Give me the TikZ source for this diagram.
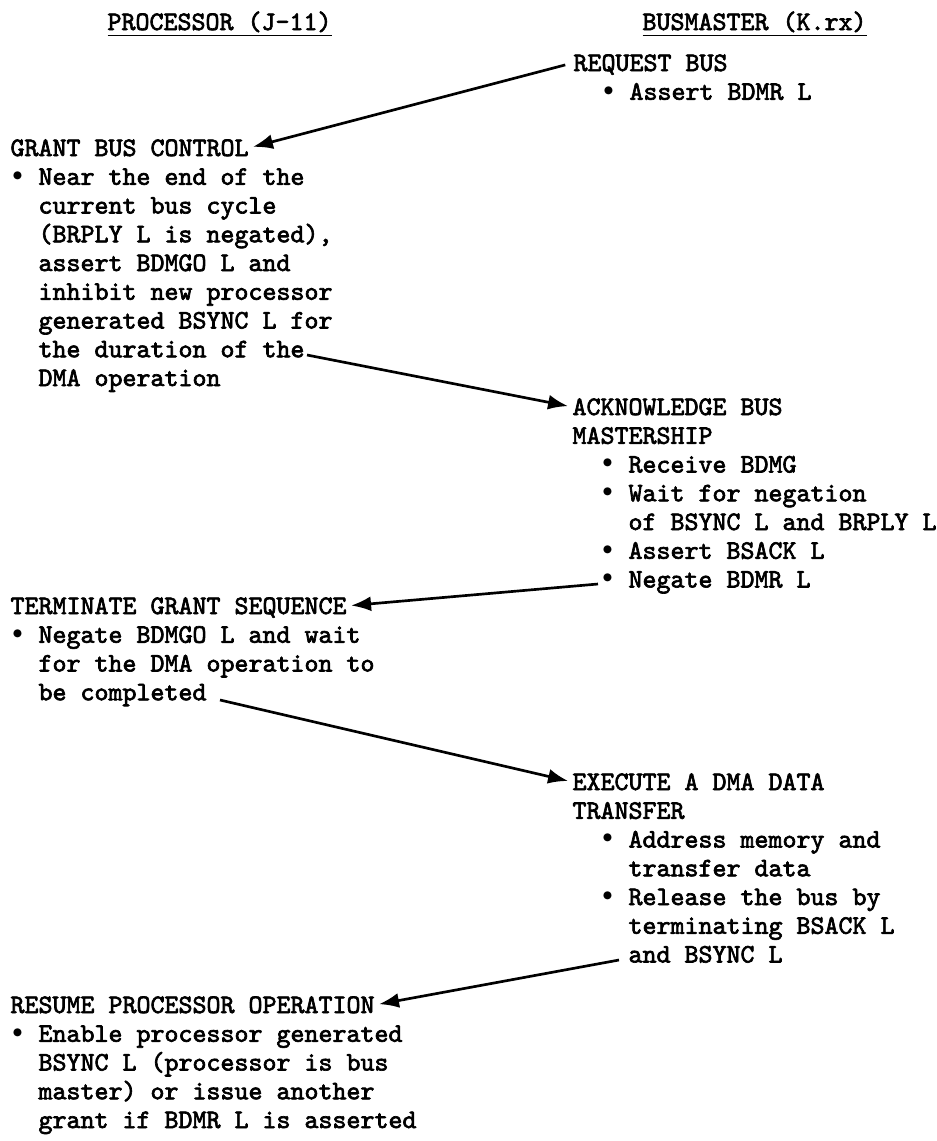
\documentclass[tikz,border=0pt]{standalone}
\usepackage{fontspec}
\usepackage{tikz}
\usetikzlibrary{arrows.meta}
\newfontfamily\typer[FakeBold=2.5]{Latin Modern Mono}
% one typewriter cell is 5.25pt wide
\newcommand{\itm}{\makebox[5.25pt]{\raisebox{1.7pt}{\fontsize{7.5}{7.5}\selectfont$\bullet$}}\hspace*{5.25pt}}
\newcommand{\ind}{\hspace*{10.5pt}}

\begin{document}
\begin{tikzpicture}[x=0.375pt,y=-0.375pt,>={Latex[length=7.5pt,width=5.6pt]},
  txt/.style={font={\typer\fontsize{10}{10.78}\selectfont},inner sep=0pt,anchor=base west,align=left},
  ttl/.style={txt,text height=6.1pt,text depth=0pt},
  flow/.style={->,line width=1pt,shorten >=1.5pt}]
\useasboundingbox (0,0) rectangle (937,1141);
% column heads
\node[txt] (hdproc) at (107,30) {\underline{PROCESSOR (J-11)}};
\node[txt] (hdbus) at (642,30) {\underline{BUSMASTER (K.rx)}};
% (body nodes sit on the baseline of their last line)
\node[ttl] (req) at (573,71) {REQUEST BUS};
\node[txt] (reqtx) at (573,99.75) {\ind\itm Assert BDMR L};
%
\node[ttl] (grant) at (10,156) {GRANT BUS CONTROL};
\node[txt] (granttx) at (10,386) {\itm Near the end of the\\
  \ind current bus cycle\\
  \ind (BRPLY L is negated),\\
  \ind assert BDMGO L and\\
  \ind inhibit new processor\\
  \ind generated BSYNC L for\\
  \ind the duration of the\\
  \ind DMA operation};
%
\node[ttl] (ack) at (572,415) {ACKNOWLEDGE BUS};
\node[txt] (acktx) at (572,587.5) {MASTERSHIP\\
  \ind\itm Receive BDMG\\
  \ind\itm Wait for negation\\
  \ind\ind of BSYNC L and BRPLY L\\
  \ind\itm Assert BSACK L\\
  \ind\itm Negate BDMR L};
%
\node[ttl] (term) at (10,614) {TERMINATE GRANT SEQUENCE};
\node[txt] (termtx) at (10,700.25) {\itm Negate BDMGO L and wait\\
  \ind for the DMA operation to\\
  \ind be completed};
%
\node[ttl] (exec) at (572,790) {EXECUTE A DMA DATA};
\node[txt] (exectx) at (572,962.5) {TRANSFER\\
  \ind\itm Address memory and\\
  \ind\ind transfer data\\
  \ind\itm Release the bus by\\
  \ind\ind terminating BSACK L\\
  \ind\ind and BSYNC L};
%
\node[ttl] (resume) at (10,1013) {RESUME PROCESSOR OPERATION};
\node[txt] (resumetx) at (10,1128) {\itm Enable processor generated\\
  \ind BSYNC L (processor is bus\\
  \ind master) or issue another\\
  \ind grant if BDMR L is asserted};
%
\coordinate (durend) at (307,355);
\coordinate (negbdmr) at (598,584);
\coordinate (cmplend) at (220,700);
\coordinate (andbsync) at (619,960);
\draw [flow,shorten <=3pt] (req.west) -- (grant.east);
\draw [flow] (durend) -- (ack.west);
\draw [flow] (negbdmr) -- (term.east);
\draw [flow] (cmplend) -- (exec.west);
\draw [flow] (andbsync) -- (resume.east);
\end{tikzpicture}
\end{document}
